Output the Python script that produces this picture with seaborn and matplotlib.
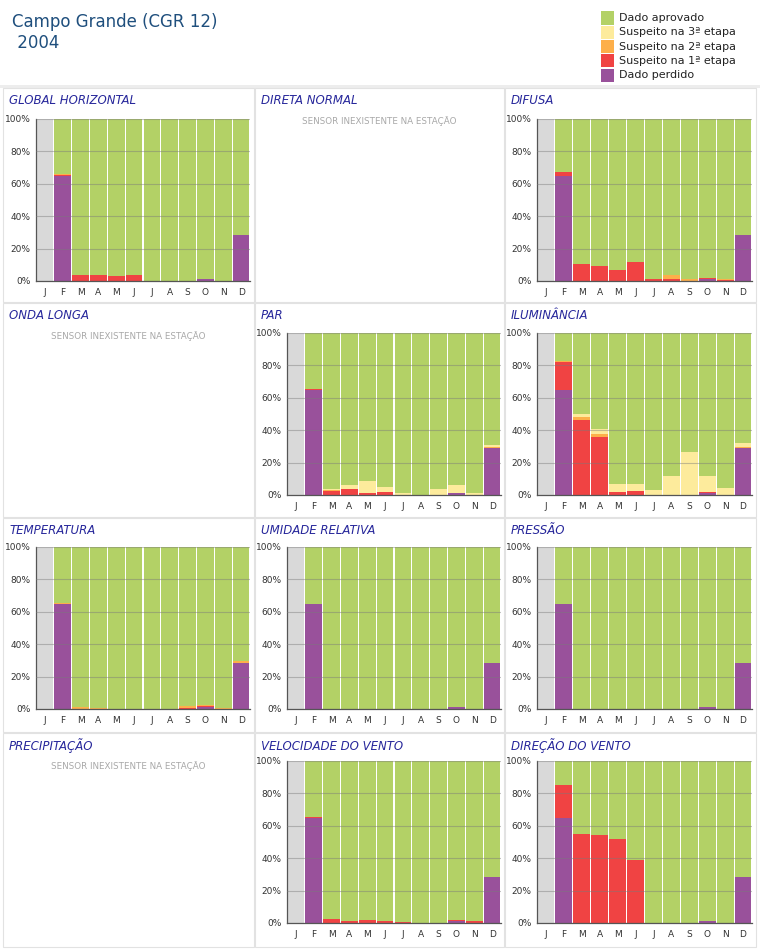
import numpy as np
import pandas as pd
import seaborn as sns
import matplotlib.pyplot as plt
from matplotlib.patches import Rectangle

sns.set_style('white')
plt.rcParams['font.family'] = ['DejaVu Sans']

meses = ['J', 'F', 'M', 'A', 'M', 'J', 'J', 'A', 'S', 'O', 'N', 'D']
nan = np.nan
zero = [nan] + [0] * 11

# percentuais por mes (jan sem dados)
gh_perdido = [nan, 65, 0, 0, 0, 0, 0, 0, 0, 1.5, 0, 28.5]
gh_s1 = [nan, 0.5, 3.5, 4, 3, 3.5, 0, 0, 0, 0, 0, 0]
gh_s2 = [nan, 0.3, 0, 0, 0, 0, 0, 0, 0, 0, 0, 0]
gh_s3 = zero

dif_perdido = [nan, 65, 0, 0, 0, 0, 0, 0, 0, 1.5, 0, 28.5]
dif_s1 = [nan, 2, 10.5, 9, 6.5, 12, 1, 1, 0, 0.5, 0.5, 0]
dif_s2 = [nan, 0.5, 0.3, 0, 0, 0, 0, 2.5, 1, 0, 0.5, 0]
dif_s3 = zero

par_perdido = [nan, 65, 0, 0, 0, 0, 0, 0, 0, 1.5, 0, 29]
par_s1 = [nan, 0.5, 2.5, 3.5, 1.5, 2, 0, 0, 0, 0, 0, 0]
par_s2 = [nan, 0, 0.5, 0, 0, 0, 0, 0, 0, 0, 0, 0.5]
par_s3 = [nan, 0, 1, 2.5, 7, 3, 1.5, 0, 4, 4.5, 1.5, 1.5]

ilu_perdido = [nan, 65, 0, 0, 0, 0, 0, 0, 0, 1.5, 0, 29]
ilu_s1 = [nan, 17, 46.5, 36, 2, 2.5, 0, 0, 0, 0.5, 0, 0]
ilu_s2 = [nan, 0.5, 1.5, 1.5, 0, 0, 0, 0, 0, 0, 0, 0.5]
ilu_s3 = [nan, 0.5, 2, 3, 5, 4, 3, 11.5, 26.5, 10, 4.5, 2.5]

tmp_perdido = [nan, 65, 0, 0, 0, 0, 0, 0, 0, 1.5, 0, 28.5]
tmp_s1 = [nan, 0, 0, 0, 0, 0, 0, 0, 0.5, 0.3, 0, 0]
tmp_s2 = [nan, 0.5, 1, 0.8, 0, 0.3, 0, 0.3, 1.5, 0.5, 0.8, 1]
tmp_s3 = zero

umi_perdido = [nan, 65, 0, 0, 0, 0, 0, 0, 0, 1.5, 0, 28.5]
pre_perdido = [nan, 65, 0, 0, 0, 0, 0, 0, 0, 1.5, 0, 28.5]

vel_perdido = [nan, 65, 0, 0, 0, 0, 0, 0, 0, 1.5, 0, 28.5]
vel_s1 = [nan, 0.3, 2.5, 1.5, 2, 1.5, 0.7, 0, 0, 0.5, 1, 0]

dir_perdido = [nan, 65, 0, 0, 0, 0, 0, 0, 0, 1.5, 0, 28.5]
dir_s1 = [nan, 20, 55, 54.5, 52, 39, 0, 0, 0, 0, 0, 0]

cores = {'aprovado': '#b3d166', 's3': '#fdeb9c', 's2': '#fdaf4a',
         's1': '#f04343', 'perdido': '#99519b', 'cinza': '#d9d9d9'}
legenda = [('Dado aprovado', 'aprovado'), ('Suspeito na 3ª etapa', 's3'),
           ('Suspeito na 2ª etapa', 's2'), ('Suspeito na 1ª etapa', 's1'),
           ('Dado perdido', 'perdido')]

paineis = [
    ('GLOBAL HORIZONTAL', (gh_perdido, gh_s1, gh_s2, gh_s3)),
    ('DIRETA NORMAL', None),
    ('DIFUSA', (dif_perdido, dif_s1, dif_s2, dif_s3)),
    ('ONDA LONGA', None),
    ('PAR', (par_perdido, par_s1, par_s2, par_s3)),
    ('ILUMINÂNCIA', (ilu_perdido, ilu_s1, ilu_s2, ilu_s3)),
    ('TEMPERATURA', (tmp_perdido, tmp_s1, tmp_s2, tmp_s3)),
    ('UMIDADE RELATIVA', (umi_perdido, zero, zero, zero)),
    ('PRESSÃO', (pre_perdido, zero, zero, zero)),
    ('PRECIPITAÇÃO', None),
    ('VELOCIDADE DO VENTO', (vel_perdido, vel_s1, zero, zero)),
    ('DIREÇÃO DO VENTO', (dir_perdido, dir_s1, zero, zero)),
]

W, H = 760, 949
fig = plt.figure(figsize=(W / 100, H / 100), dpi=100)
fig.patch.set_facecolor('white')


def px(l, t, r, b):
    return [l / W, 1 - b / H, (r - l) / W, (b - t) / H]


def desenha(ax, perdido, s1, s2, s3):
    df = pd.DataFrame({'mes': range(12), 'perdido': perdido, 's1': s1,
                       's2': s2, 's3': s3})
    sem = df['perdido'].isna()
    df = df.fillna(0)
    df['c1'] = df['perdido'] + df['s1']
    df['c2'] = df['c1'] + df['s2']
    df['c3'] = df['c2'] + df['s3']
    df['cinza'] = np.where(sem, 100, 0)
    df['aprovado'] = np.where(sem, 0, 100)
    camadas = [('cinza', 'cinza'), ('aprovado', 'aprovado'), ('c3', 's3'),
               ('c2', 's2'), ('c1', 's1'), ('perdido', 'perdido')]
    for col, c in camadas:
        sns.barplot(data=df, x='mes', y=col, order=list(range(12)),
                    color=cores[c], saturation=1, width=0.94, linewidth=0,
                    errorbar=None, ax=ax)
    ax.set_xlim(-0.5, 11.5)
    ax.set_ylim(0, 100)
    ax.set_xlabel('')
    ax.set_ylabel('')
    ax.set_xticks(range(12))
    ax.set_xticklabels(meses)
    ax.set_xticks(np.arange(-0.5, 12, 1), minor=True)
    ax.set_yticks(range(0, 101, 20))
    ax.set_yticklabels([f'{v}%' for v in range(0, 101, 20)])
    ax.tick_params(axis='x', which='major', length=0, labelsize=6.5,
                   colors='#333333', pad=5)
    ax.tick_params(axis='x', which='minor', length=3, color='#555555')
    ax.tick_params(axis='y', length=3, labelsize=6.5, pad=1,
                   color='#555555', labelcolor='#333333')
    ax.set_axisbelow(False)
    ax.yaxis.grid(True, color='#7a7a7a', alpha=0.45, linewidth=0.8)
    ax.xaxis.grid(False)
    for s in ['top', 'right']:
        ax.spines[s].set_visible(False)
    for s in ['left', 'bottom']:
        ax.spines[s].set_color('#555555')
        ax.spines[s].set_linewidth(0.9)


caixas_x = [(3, 254), (255, 504), (505, 756)]
caixas_y = [(88, 302), (303, 517), (518, 732), (733, 947)]
eixos_x = [(36, 250), (287, 501), (537, 752)]
eixos_y = [(119, 281), (333, 495), (547, 709), (761, 923)]

fig.patches.append(Rectangle((0, 1 - 88 / H), 1, 3 / H, transform=fig.transFigure,
                             facecolor='#ededed', edgecolor='none', zorder=-2))

for i, (titulo, dados) in enumerate(paineis):
    lin, col = divmod(i, 3)
    bx0, bx1 = caixas_x[col]
    by0, by1 = caixas_y[lin]
    fig.patches.append(Rectangle((bx0 / W, 1 - by1 / H), (bx1 - bx0) / W,
                                 (by1 - by0) / H, transform=fig.transFigure,
                                 facecolor='white', edgecolor='#e2e2e2',
                                 linewidth=0.8, zorder=-1))
    fig.text((bx0 + 6) / W, 1 - (by0 + 13) / H, titulo, style='italic',
             fontsize=8.5, color='#27279b', va='center', ha='left')
    if dados is None:
        fig.text((bx0 + bx1) / 2 / W, 1 - (by0 + 33) / H,
                 'SENSOR INEXISTENTE NA ESTAÇÃO', fontsize=6.3,
                 color='#a8a8a8', ha='center', va='center')
        continue
    ax = fig.add_axes(px(eixos_x[col][0], eixos_y[lin][0],
                         eixos_x[col][1], eixos_y[lin][1]))
    desenha(ax, *dados)

fig.text(12 / W, 1 - 22 / H, 'Campo Grande (CGR 12)', fontsize=12,
         color='#1f4f7d', va='center', ha='left')
fig.text(12 / W, 1 - 43 / H, ' 2004', fontsize=12, color='#1f4f7d',
         va='center', ha='left')

for k, (rotulo, c) in enumerate(legenda):
    y = 18 + k * 14.3
    fig.patches.append(Rectangle((601 / W, 1 - (y + 6.5) / H), 13 / W, 13 / H,
                                 transform=fig.transFigure,
                                 facecolor=cores[c], edgecolor='none'))
    fig.text(619 / W, 1 - y / H, rotulo, fontsize=8, color='#222222',
             va='center', ha='left')

fig.savefig('out.png', dpi=100)
